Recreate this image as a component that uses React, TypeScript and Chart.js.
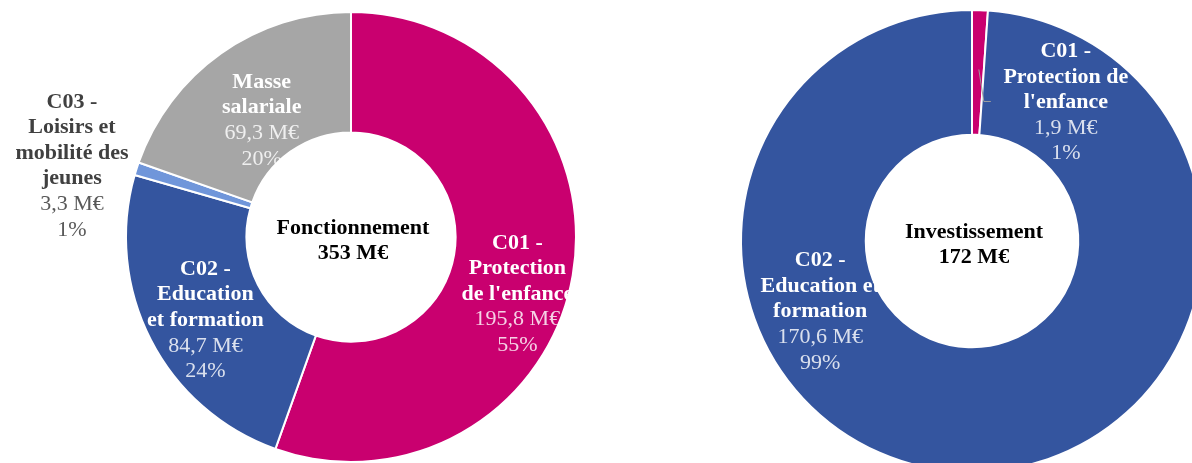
import React, { useEffect, useRef } from "react";
import { Chart, registerables } from "chart.js";

Chart.register(...registerables);

// ---- Data ----
const leftCategories = [
  ["C01 -", "Protection", "de l'enfance"],
  ["C02 -", "Education", "et formation"],
  ["C03 -", "Loisirs et", "mobilité des", "jeunes"],
  ["Masse", "salariale"],
];
const leftValues = [195.8, 84.7, 3.3, 69.3];
const leftTitle = ["Fonctionnement", "353 M€"];

const rightCategories = [
  ["C01 -", "Protection de", "l'enfance"],
  ["C02 -", "Education et", "formation"],
];
const rightValues = [1.9, 170.6];
const rightTitle = ["Investissement", "172 M€"];

// ---- Styles ----
const PINK = "#C9006F";
const BLUE = "#34559F";
const LIGHTBLUE = "#7096DA";
const GRAY = "#A6A6A6";
const FONT = "'Liberation Serif', 'Times New Roman', serif";
const FS = 22;
const LH = 25.6;

const fmt = (v: number) => v.toFixed(1).replace(".", ",") + " M€";

type LabelStyle = {
  dx: number;
  dy: number;
  nameColor: string;
  valueColor: string;
  leader?: boolean;
};

const labelPlugin = {
  id: "donutLabels",
  afterDatasetsDraw(chart: any, _args: any, opts: any) {
    const ctx = chart.ctx;
    const meta = chart.getDatasetMeta(0);
    const data: number[] = chart.data.datasets[0].data;
    const total = data.reduce((a, b) => a + b, 0);
    const cats: string[][] = opts.categories;
    const styles: LabelStyle[] = opts.styles;
    ctx.save();
    ctx.textAlign = "center";
    ctx.textBaseline = "middle";
    meta.data.forEach((arc: any, i: number) => {
      const p = arc.getCenterPoint();
      const st = styles[i];
      const ax = p.x + st.dx;
      const ay = p.y + st.dy;
      const lines: { t: string; bold: boolean }[] = [
        ...cats[i].map((t) => ({ t, bold: true })),
        { t: fmt(data[i]), bold: false },
        { t: Math.round((data[i] / total) * 100) + "%", bold: false },
      ];
      if (st.leader) {
        ctx.beginPath();
        ctx.strokeStyle = "#A0A0A0";
        ctx.lineWidth = 1;
        ctx.moveTo(p.x + 1, p.y - 3);
        ctx.lineTo(ax - 82, ay - 1);
        ctx.lineTo(ax - 75, ay - 1);
        ctx.stroke();
      }
      const n = lines.length;
      lines.forEach((ln, k) => {
        ctx.font = `${ln.bold ? "bold " : ""}${FS}px ${FONT}`;
        ctx.fillStyle = ln.bold ? st.nameColor : st.valueColor;
        ctx.fillText(ln.t, ax, ay + (k - (n - 1) / 2) * LH);
      });
    });
    // center title
    const c = meta.data[0];
    const title: string[] = opts.title;
    ctx.fillStyle = "#000000";
    ctx.font = `bold ${FS}px ${FONT}`;
    title.forEach((t, k) => {
      ctx.fillText(t, c.x + 2, c.y + 4 + (k - 0.5) * 25);
    });
    ctx.restore();
  },
};

function Donut(props: {
  values: number[];
  colors: string[];
  categories: string[][];
  title: string[];
  styles: LabelStyle[];
  padding: any;
  cutout: string;
  width: number;
  height: number;
  left: number;
  top: number;
}) {
  const ref = useRef<HTMLCanvasElement>(null);
  useEffect(() => {
    if (!ref.current) return;
    const chart = new Chart(ref.current, {
      type: "doughnut",
      data: {
        labels: props.categories.map((c) => c.join(" ")),
        datasets: [
          {
            data: props.values,
            backgroundColor: props.colors,
            borderColor: "#FFFFFF",
            borderWidth: 2,
          },
        ],
      },
      options: {
        responsive: false,
        animation: false,
        events: [],
        cutout: props.cutout,
        rotation: 0,
        layout: { padding: props.padding },
        plugins: {
          legend: { display: false },
          tooltip: { enabled: false },
          donutLabels: {
            categories: props.categories,
            styles: props.styles,
            title: props.title,
          },
        } as any,
      },
      plugins: [labelPlugin],
    });
    return () => chart.destroy();
  }, []);
  return (
    <canvas
      ref={ref}
      width={props.width}
      height={props.height}
      style={{
        position: "absolute",
        left: props.left,
        top: props.top,
        width: props.width,
        height: props.height,
      }}
    />
  );
}

const W = "#FFFFFF";
const WV = "rgba(255,255,255,0.82)";

export default function App() {
  return (
    <div
      style={{
        position: "fixed",
        left: 0,
        top: 0,
        width: 1192,
        height: 463,
        overflow: "hidden",
        background: "#FFFFFF",
      }}
    >
      <Donut
        values={leftValues}
        colors={[PINK, BLUE, LIGHTBLUE, GRAY]}
        categories={leftCategories}
        title={leftTitle}
        styles={[
          { dx: 4, dy: 29, nameColor: W, valueColor: WV },
          { dx: 1, dy: 8, nameColor: W, valueColor: WV },
          { dx: -122, dy: -21, nameColor: "#404040", valueColor: "#595959" },
          { dx: 6, dy: 18, nameColor: W, valueColor: WV },
        ]}
        padding={{ left: 125, right: 123, top: 11, bottom: 0 }}
        cutout="46.5%"
        width={700}
        height={463}
        left={0}
        top={0}
      />
      <Donut
        values={rightValues}
        colors={[PINK, BLUE]}
        categories={rightCategories}
        title={rightTitle}
        styles={[
          { dx: 88, dy: 30, nameColor: W, valueColor: WV, leader: true },
          { dx: -146, dy: -98, nameColor: W, valueColor: WV },
        ]}
        padding={{ left: 40, right: 16, top: 9, bottom: 17 }}
        cutout="46%"
        width={520}
        height={490}
        left={700}
        top={0}
      />
    </div>
  );
}
